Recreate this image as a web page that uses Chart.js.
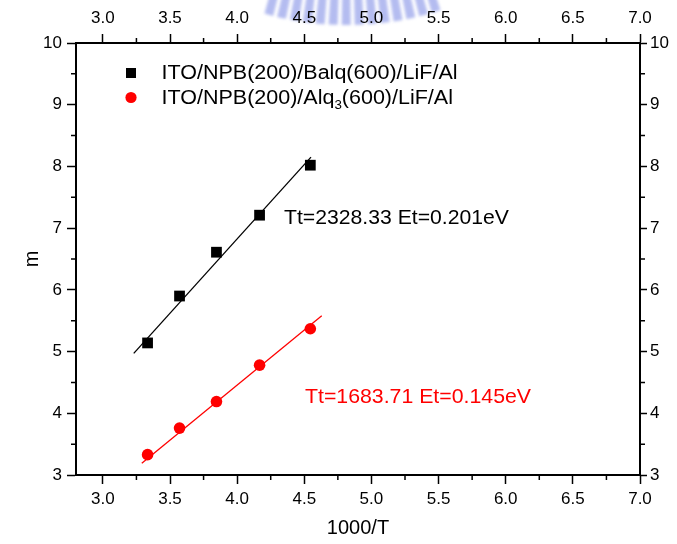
<!DOCTYPE html>
<html>
<head>
<meta charset="utf-8">
<script src="https://cdn.jsdelivr.net/npm/chart.js@4/dist/chart.umd.min.js"></script>
<style>
  html, body { margin: 0; padding: 0; background: #fff; }
  #wrap { width: 677px; height: 544px; position: relative; }
</style>
</head>
<body>
<div id="wrap"><canvas id="c"></canvas></div>
<script>
// 1000/T values for the measured temperatures
const invT = [3.333, 3.571, 3.846, 4.167, 4.545];
// m values for each device
const mBalq = [5.14, 5.90, 6.61, 7.21, 8.02];
const mAlq3 = [3.33, 3.76, 4.19, 4.78, 5.37];
// end points of the linear fits
const fitBalqX = [3.23, 4.55];
const fitBalqY = [4.97, 8.15];
const fitAlq3X = [3.29, 4.63];
const fitAlq3Y = [3.19, 5.58];
// axis ticks
const xTicks = [3.0, 3.5, 4.0, 4.5, 5.0, 5.5, 6.0, 6.5, 7.0];
const yTicks = [3, 4, 5, 6, 7, 8, 9, 10];
const xMinor = [3.25, 3.75, 4.25, 4.75, 5.25, 5.75, 6.25, 6.75];
const yMinor = [3.5, 4.5, 5.5, 6.5, 7.5, 8.5, 9.5];
// texts
const seriesNames = ['ITO/NPB(200)/Balq(600)/LiF/Al', 'ITO/NPB(200)/Alq3(600)/LiF/Al'];
const fitNotes = ['Tt=2328.33 Et=0.201eV', 'Tt=1683.71 Et=0.145eV'];

const FONT = "'Liberation Sans', Arial, Helvetica, sans-serif";
const RED = '#ff0000';

const pts = (xs, ys) => xs.map((x, i) => ({ x: x, y: ys[i] }));

// draws text stretched to a given width
function fitText(ctx, text, x, y, width) {
  const w = ctx.measureText(text).width;
  ctx.save();
  ctx.translate(x, y);
  ctx.scale(width / w, 1);
  ctx.fillText(text, 0, 0);
  ctx.restore();
}

// writes a label, turning the digit after "Alq" into a subscript
function drawLabel(ctx, text, x, y, size, sx) {
  const m = text.match(/^(.*Alq)(\d)(.*)$/);
  const parts = m ? [[m[1], false], [m[2], true], [m[3], false]] : [[text, false]];
  ctx.save();
  ctx.translate(x, y);
  ctx.scale(sx, 1);
  let cx = 0;
  parts.forEach(([t, sub]) => {
    ctx.font = (sub ? size * 0.62 : size) + 'px ' + FONT;
    ctx.fillText(t, cx, sub ? size * 0.28 : 0);
    cx += ctx.measureText(t).width;
  });
  ctx.restore();
}

// faint emblem behind the top axis labels
const watermark = {
  id: 'watermark',
  beforeDraw(chart) {
    const ctx = chart.ctx;
    ctx.save();
    ctx.filter = 'blur(1.6px)';
    ctx.fillStyle = 'rgba(155,165,235,0.75)';
    const cx = 347, cy = -280, r1 = 262, r2 = 305;
    for (let a = 73; a <= 107; a += 2.45) {
      const a0 = (a - 0.85) * Math.PI / 180, a1 = (a + 0.85) * Math.PI / 180;
      ctx.beginPath();
      ctx.arc(cx, cy, r2, a0, a1);
      ctx.arc(cx, cy, r1, a1, a0, true);
      ctx.closePath();
      ctx.fill();
    }
    ctx.restore();
  }
};

const extras = {
  id: 'extras',
  afterDraw(chart) {
    const ctx = chart.ctx;
    const a = chart.chartArea;
    const sx = chart.scales.x, sy = chart.scales.y;
    // minor ticks on all four sides
    ctx.save();
    ctx.strokeStyle = '#000';
    ctx.lineWidth = 1.5;
    ctx.beginPath();
    xMinor.forEach(v => {
      const px = sx.getPixelForValue(v);
      ctx.moveTo(px, a.bottom); ctx.lineTo(px, a.bottom + 5);
      ctx.moveTo(px, a.top); ctx.lineTo(px, a.top - 5);
    });
    yMinor.forEach(v => {
      const py = sy.getPixelForValue(v);
      ctx.moveTo(a.left, py); ctx.lineTo(a.left - 5, py);
      ctx.moveTo(a.right, py); ctx.lineTo(a.right + 5, py);
    });
    ctx.stroke();

    // legend
    const ds = chart.data.datasets;
    ctx.fillStyle = '#000';
    ctx.fillRect(126, 68, 10, 10);
    ctx.fillStyle = RED;
    ctx.beginPath(); ctx.arc(131, 97.5, 5.6, 0, Math.PI * 2); ctx.fill();
    ctx.textBaseline = 'alphabetic';
    ctx.textAlign = 'left';
    ctx.fillStyle = '#000';
    ctx.font = '20px ' + FONT;
    const w0 = ctx.measureText(ds[0].label).width;
    const sxLegend = 296 / w0;
    drawLabel(ctx, ds[0].label, 161.5, 78.5, 20, sxLegend);
    drawLabel(ctx, ds[1].label, 161.5, 103.5, 20, sxLegend);

    // fit annotations
    ctx.font = '21px ' + FONT;
    ctx.fillStyle = '#000';
    fitText(ctx, fitNotes[0], 284, 223.5, 225);
    ctx.fillStyle = RED;
    fitText(ctx, fitNotes[1], 305, 402.5, 226);
    ctx.restore();
  }
};

const tickFont = { family: FONT, size: 17 };
const gridOpts = { drawOnChartArea: false, drawTicks: true, tickLength: 9, tickColor: '#000', tickWidth: 1.5 };
const borderOpts = { display: true, color: '#000', width: 2 };

function xAxis(pos, h, extra) {
  return Object.assign({
    type: 'linear', position: pos, min: 2.8, max: 7.0,
    afterBuildTicks: s => { s.ticks = xTicks.map(v => ({ value: v })); },
    afterFit: s => { s.height = h; },
    ticks: { callback: v => Number(v).toFixed(1), font: tickFont, color: '#000', padding: 5, maxRotation: 0, autoSkip: false },
    grid: gridOpts, border: borderOpts
  }, extra || {});
}
function yAxis(pos, w, pad, tl, extra) {
  return Object.assign({
    type: 'linear', position: pos, min: 3, max: 10,
    afterBuildTicks: s => { s.ticks = yTicks.map(v => ({ value: v })); },
    afterFit: s => { s.width = w; },
    ticks: { callback: v => String(v), font: tickFont, color: '#000', padding: pad, autoSkip: false },
    grid: Object.assign({}, gridOpts, { tickLength: tl }), border: borderOpts
  }, extra || {});
}

new Chart(document.getElementById('c'), {
  data: {
    datasets: [
      { type: 'scatter', label: seriesNames[0], data: pts(invT, mBalq), pointStyle: 'rect',
        pointRadius: 7.6, pointBackgroundColor: '#000', pointBorderWidth: 0, xAxisID: 'x', yAxisID: 'y' },
      { type: 'scatter', label: seriesNames[1], data: pts(invT, mAlq3), pointStyle: 'circle',
        pointRadius: 5.8, pointBackgroundColor: RED, pointBorderWidth: 0, xAxisID: 'x', yAxisID: 'y' },
      { type: 'line', label: 'fit1', data: pts(fitBalqX, fitBalqY), borderColor: '#000', borderWidth: 1.3,
        pointRadius: 0, fill: false, xAxisID: 'x', yAxisID: 'y' },
      { type: 'line', label: 'fit2', data: pts(fitAlq3X, fitAlq3Y), borderColor: RED, borderWidth: 1.3,
        pointRadius: 0, fill: false, xAxisID: 'x', yAxisID: 'y' }
    ]
  },
  options: {
    responsive: true,
    maintainAspectRatio: false,
    animation: false,
    layout: { padding: 0 },
    plugins: { legend: { display: false }, tooltip: { enabled: false } },
    scales: {
      x: xAxis('bottom', 69, {
        title: { display: true, text: '1000/T', color: '#000', font: { family: FONT, size: 20 }, padding: { top: 0, bottom: 4 } }
      }),
      x2: xAxis('top', 43),
      y: yAxis('left', 76, 5, 9, {
        title: { display: true, text: 'm', color: '#000', font: { family: FONT, size: 20 }, padding: { top: 20, bottom: 0 } }
      }),
      y2: yAxis('right', 37, 3, 7)
    }
  },
  plugins: [watermark, extras]
});
</script>
</body>
</html>
